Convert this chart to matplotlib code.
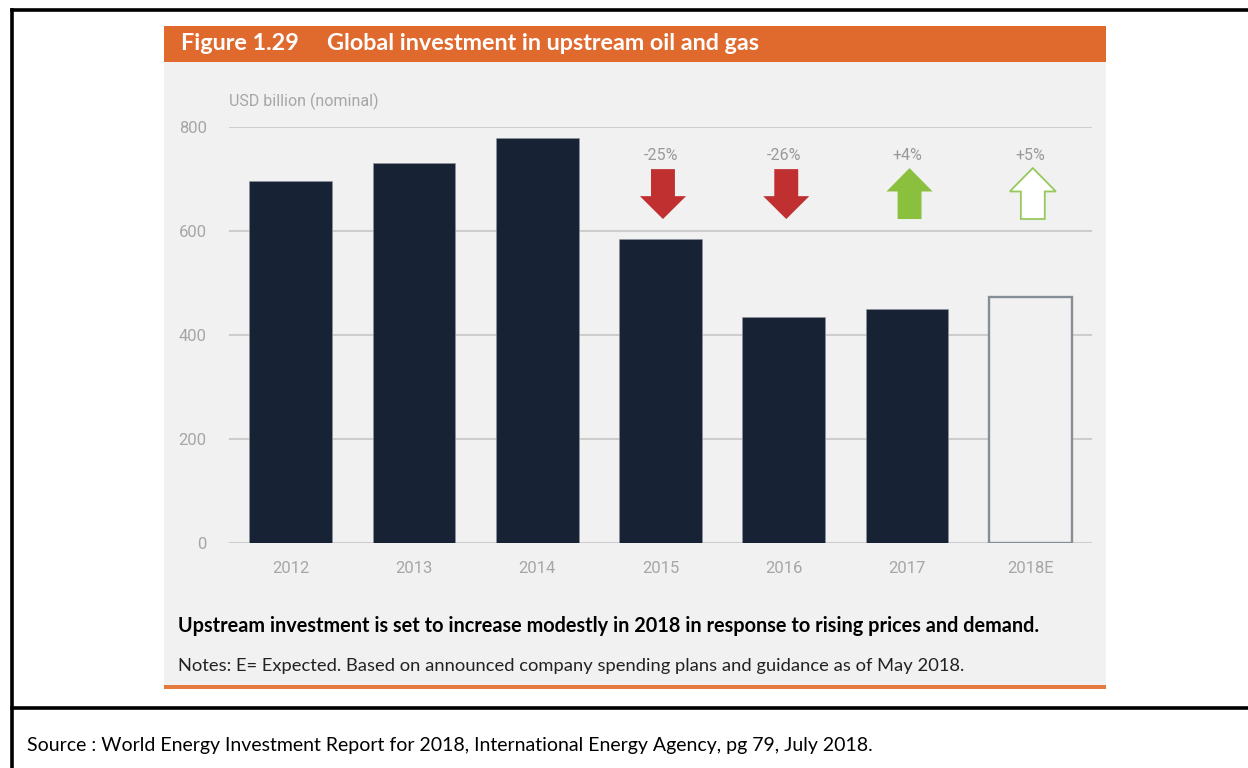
import matplotlib
matplotlib.use("Agg")
import matplotlib.pyplot as plt
from matplotlib.patches import Rectangle, Polygon
from matplotlib.lines import Line2D

# ---- data ----
years = ["2012", "2013", "2014", "2015", "2016", "2017", "2018E"]
investment = [696, 731, 779, 585, 435, 450, 473]
change_labels = ["", "", "", "-25%", "-26%", "+4%", "+5%"]
change_dirs = [0, 0, 0, -1, -1, 1, 1]   # -1 down, +1 up
estimated = [False, False, False, False, False, False, True]
y_ticks = [0, 200, 400, 600, 800]

W, H = 1248, 768
fig = plt.figure(figsize=(W / 100, H / 100), dpi=100)
fig.patch.set_facecolor("white")

def fx(x):
    return x / W

def fy(y):
    return 1 - y / H

# panel background and header
fig.patches.append(Rectangle((fx(164), fy(686)), fx(1106) - fx(164), fy(62) - fy(686),
                             transform=fig.transFigure, facecolor="#F1F1F1", edgecolor="none", zorder=-2))
fig.patches.append(Rectangle((fx(164), fy(62)), fx(1106) - fx(164), fy(26) - fy(62),
                             transform=fig.transFigure, facecolor="#E06A2E", edgecolor="none", zorder=-2))
fig.patches.append(Rectangle((fx(164), fy(689)), fx(1106) - fx(164), fy(685) - fy(689),
                             transform=fig.transFigure, facecolor="#E57A3E", edgecolor="none", zorder=-2))

# outer table borders
for (x0, y0, x1, y1) in [(12, 10, W, 10), (12, 10, 12, H), (12, 708, W, 708)]:
    fig.lines.append(Line2D([fx(x0), fx(x1)], [fy(y0), fy(y1)], transform=fig.transFigure,
                            color="black", lw=2.6, zorder=-1))

# texts
fig.text(fx(181), fy(44), "Figure 1.29     Global investment in upstream oil and gas",
         color="white", fontsize=16.8, fontweight="bold", family="Lato", va="center", ha="left")
fig.text(fx(229), fy(101), "USD billion (nominal)", color="#A6A6A6", fontsize=11.5,
         family="Roboto", va="center", ha="left")
fig.text(fx(178), fy(626), "Upstream investment is set to increase modestly in 2018 in response to rising prices and demand.",
         color="black", fontsize=14.3, fontweight="bold", family="Lato", va="center", ha="left")
fig.text(fx(178), fy(666), "Notes: E= Expected. Based on announced company spending plans and guidance as of May 2018.",
         color="#222222", fontsize=13.25, family="Lato", va="center", ha="left")
fig.text(fx(27), fy(745), "Source : World Energy Investment Report for 2018, International Energy Agency, pg 79, July 2018.",
         color="black", fontsize=14, family="Lato", va="center", ha="left")

# axes
ax = fig.add_axes([fx(229), fy(543), fx(1092) - fx(229), fy(127) - fy(543)])
ax.set_facecolor("none")
ax.set_xlim(-0.5, len(years) - 0.5)
ax.set_ylim(0, 800)
for s in ax.spines.values():
    s.set_visible(False)
ax.set_yticks(y_ticks)
ax.set_yticklabels([str(t) for t in y_ticks])
ax.set_xticks(range(len(years)))
ax.set_xticklabels(years)
ax.tick_params(axis="both", length=0, colors="#A6A6A6", labelsize=12)
ax.tick_params(axis="y", pad=16)
ax.tick_params(axis="x", pad=13)
for lab in ax.get_xticklabels() + ax.get_yticklabels():
    lab.set_family("Roboto")
ax.grid(axis="y", color="#CDCDCD", lw=1.5)
ax.set_axisbelow(True)

for i, (v, est) in enumerate(zip(investment, estimated)):
    if est:
        ax.bar(i, v, width=0.67, facecolor="#F1F1F1", edgecolor="#858E97", lw=1.7, zorder=3)
    else:
        ax.bar(i, v, width=0.67, facecolor="#172334", edgecolor="#8E979F", lw=0.4, zorder=3)

# change arrows
sw, hw = 0.097, 0.187
for i, (lab, d) in enumerate(zip(change_labels, change_dirs)):
    if d == 0:
        continue
    c = i + 0.02
    ax.text(c - 0.02, 746, lab, ha="center", va="center", color="#999999", fontsize=11.5,
            family="Roboto", clip_on=False)
    if d < 0:
        top, neck, tip = 719, 667, 623
        pts = [(c - sw, top), (c + sw, top), (c + sw, neck), (c + hw, neck), (c, tip),
               (c - hw, neck), (c - sw, neck)]
        ax.add_patch(Polygon(pts, closed=True, facecolor="#C03030", edgecolor="none",
                             clip_on=False, zorder=4))
    else:
        bot, neck, tip = 623, 676, 721
        pts = [(c - sw, bot), (c + sw, bot), (c + sw, neck), (c + hw, neck), (c, tip),
               (c - hw, neck), (c - sw, neck)]
        if estimated[i]:
            ax.add_patch(Polygon(pts, closed=True, facecolor="white", edgecolor="#96C95C",
                                 lw=1.3, clip_on=False, zorder=4))
        else:
            ax.add_patch(Polygon(pts, closed=True, facecolor="#8BC03F", edgecolor="none",
                                 clip_on=False, zorder=4))

fig.savefig("out.png", dpi=100, facecolor="white")
